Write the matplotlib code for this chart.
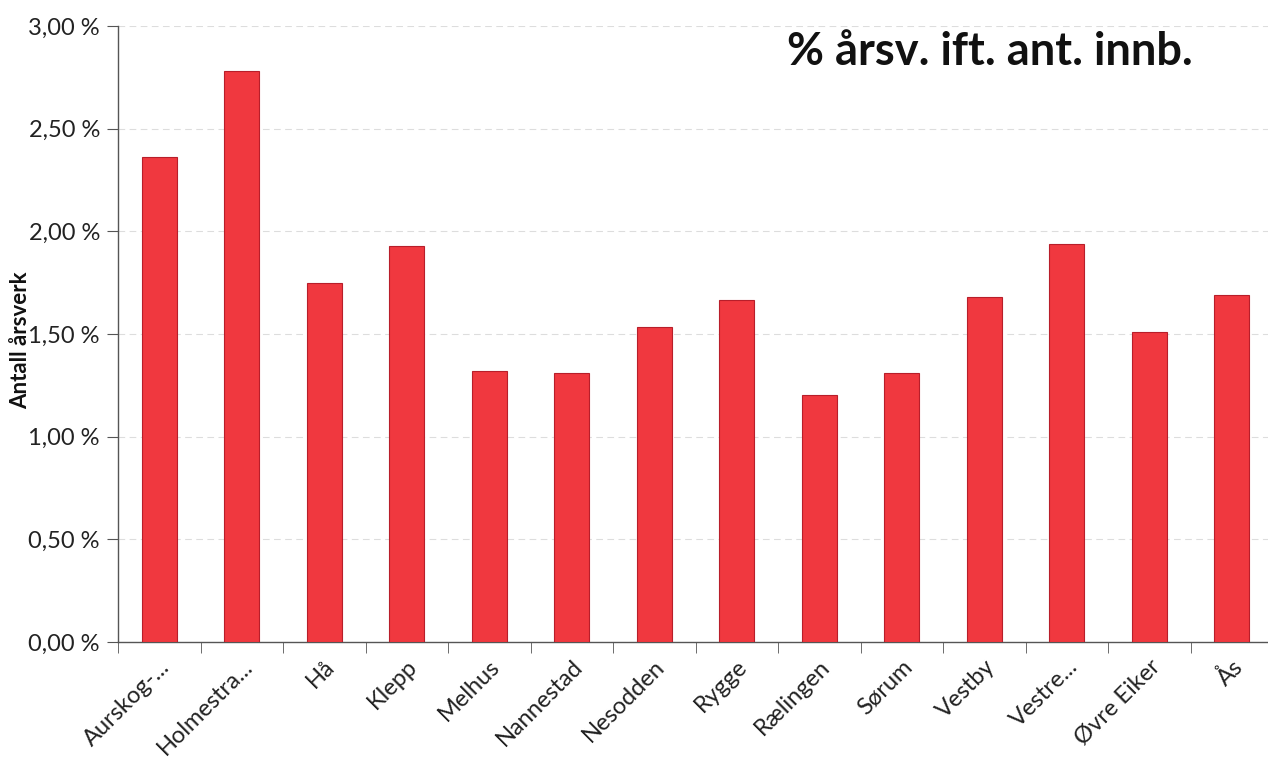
import numpy as np
import matplotlib.pyplot as plt
from matplotlib.ticker import FuncFormatter, FixedLocator

plt.rcParams['font.family'] = ['Lato', 'DejaVu Sans']

# data
kommuner = ['Aurskog-...', 'Holmestra...', 'Hå', 'Klepp', 'Melhus', 'Nannestad',
            'Nesodden', 'Rygge', 'Rælingen', 'Sørum', 'Vestby', 'Vestre...',
            'Øvre Eiker', 'Ås']
andel = [2.36, 2.78, 1.75, 1.93, 1.32, 1.31, 1.535, 1.665, 1.205, 1.31,
         1.68, 1.94, 1.51, 1.69]
y_ticks = [0.0, 0.5, 1.0, 1.5, 2.0, 2.5, 3.0]

fig = plt.figure(figsize=(12.68, 7.58), dpi=100)
ax = fig.add_axes([118 / 1268, 1 - 642 / 758, 1155 / 1268, 616 / 758])

x = np.arange(len(kommuner))
ax.bar(x, andel, width=0.42, color='#F0383F', edgecolor='#B81E2A',
       linewidth=0.8, zorder=3)

ax.set_xlim(-0.5, len(kommuner) - 0.5)
ax.set_ylim(0, 3.0)
ax.set_yticks(y_ticks)
ax.yaxis.set_major_formatter(FuncFormatter(lambda v, p: f'{v:.2f} %'.replace('.', ',')))
ax.grid(axis='y', color='#dddddd', linestyle=(0, (6, 4)), linewidth=0.8, zorder=0)

ax.set_xticks(x)
ax.set_xticklabels(kommuner, rotation=45, ha='right', rotation_mode='anchor',
                   fontsize=17, color='#222222')
ax.xaxis.set_minor_locator(FixedLocator(np.arange(-0.5, len(kommuner), 1.0)))
ax.tick_params(axis='x', which='major', length=0, pad=10)
ax.tick_params(axis='x', which='minor', length=8, color='#555555')
ax.tick_params(axis='y', length=8, color='#555555', labelsize=17,
               labelcolor='#222222', pad=5)

for s in ['top', 'right']:
    ax.spines[s].set_visible(False)
for s in ['left', 'bottom']:
    ax.spines[s].set_color('#555555')
    ax.spines[s].set_linewidth(1.0)

ax.set_ylabel('Antall årsverk', fontsize=16, fontweight='bold', color='#111111')
ax.yaxis.set_label_coords(-0.075, 0.49)

fig.text(787 / 1268, 1 - 52 / 758, '% årsv. ift. ant. innb.', fontsize=32.5,
         fontweight='bold', color='#111111', ha='left', va='center')

fig.savefig('out.png', dpi=100)
